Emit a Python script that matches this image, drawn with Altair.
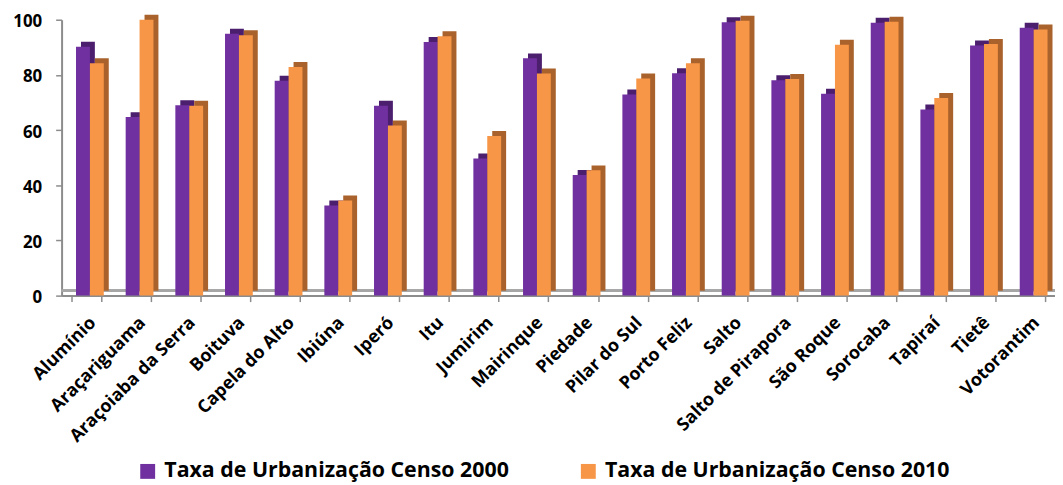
import altair as alt
import pandas as pd

municipios = ["Alumínio", "Araçariguama", "Araçoiaba da Serra", "Boituva", "Capela do Alto",
              "Ibiúna", "Iperó", "Itu", "Jumirim", "Mairinque", "Piedade", "Pilar do Sul",
              "Porto Feliz", "Salto", "Salto de Pirapora", "São Roque", "Sorocaba", "Tapiraí",
              "Tietê", "Votorantim"]
taxa_2000 = [90.2, 64.7, 69.0, 94.9, 77.9, 32.7, 68.8, 91.9, 49.7, 86.0,
             43.7, 72.9, 80.6, 99.1, 78.1, 73.2, 98.9, 67.5, 90.7, 97.1]
taxa_2010 = [84.2, 100.0, 68.8, 94.4, 82.9, 34.5, 61.7, 94.0, 57.9, 80.5,
             45.4, 78.7, 84.2, 99.6, 78.5, 90.9, 99.3, 71.6, 91.2, 96.5]
series = ["Taxa de Urbanização Censo 2000", "Taxa de Urbanização Censo 2010"]
front_colors = ["#7030A0", "#F79646"]
side_colors = ["#4B1E6E", "#A9622B"]

rows = []
for i, m in enumerate(municipios):
    rows.append({"municipio": m, "serie": series[0], "valor": taxa_2000[i]})
    rows.append({"municipio": m, "serie": series[1], "valor": taxa_2010[i]})
df = pd.DataFrame(rows)

FONT = "Open Sans"
BAR_W = 14
DEPTH = 5

x_enc = alt.X("municipio:N", sort=municipios, title=None,
              scale=alt.Scale(paddingInner=0.4, paddingOuter=0.2),
              axis=alt.Axis(labelAngle=-45, labelFont=FONT, labelFontWeight="bold",
                            labelFontSize=18, labelColor="#000000", labelPadding=12,
                            tickBand="extent", tickSize=6, tickColor="#8C8C8C",
                            domainColor="#8C8C8C", domainWidth=2, tickWidth=1.5,
                            grid=False, labelLimit=300))
y_enc = alt.Y("valor:Q", title=None,
              scale=alt.Scale(domain=[0, 100], nice=False),
              axis=alt.Axis(values=[0, 20, 40, 60, 80, 100], labelFont=FONT,
                            labelFontWeight="bold", labelFontSize=17, labelColor="#000000",
                            labelPadding=14, labelOffset=2, tickSize=6, tickColor="#8C8C8C",
                            domainColor="#8C8C8C", domainWidth=2, tickWidth=1.5, grid=False))

legend = alt.Legend(title=None, orient="none", direction="horizontal",
                    legendX=76, legendY=444, padding=0,
                    labelFont=FONT, labelFontWeight="bold", labelFontSize=21.5,
                    labelColor="#000000", symbolType="square",
                    symbolSize=225, symbolStrokeWidth=0, labelOffset=6,
                    columnPadding=69, labelLimit=500)
color_enc = alt.Color("serie:N", scale=alt.Scale(domain=series, range=front_colors),
                      legend=legend)

base = alt.Chart(df)

floor = base.mark_rule(color="#A6A6A6", strokeWidth=2, yOffset=-DEPTH, xOffset=DEPTH).encode(
    y=alt.datum(0)
)

layers = [floor]
offsets = [-3.5, 10.5]
for k, s in enumerate(series):
    d = base.transform_filter(alt.datum.serie == s)
    side = d.mark_bar(width=BAR_W, xOffset=offsets[k] + DEPTH, yOffset=-DEPTH,
                      color=side_colors[k]).encode(x=x_enc, y=y_enc)
    front = d.mark_bar(width=BAR_W, xOffset=offsets[k]).encode(x=x_enc, y=y_enc,
                                                                color=color_enc)
    layers += [side, front]

chart = alt.layer(*layers).properties(
    width=1001, height=278,
    autosize=alt.AutoSizeParams(type="none"),
    padding={"left": 54, "top": 10, "right": 0, "bottom": 188},
).configure_view(stroke=None)

chart.save("out.html", embed_options={"renderer": "svg", "actions": False})
